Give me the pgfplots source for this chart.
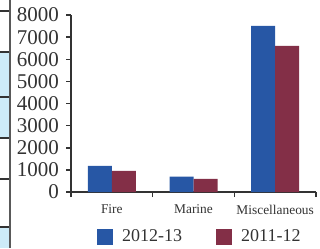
\documentclass[border=0pt]{standalone}
\usepackage{fontspec}
\setmainfont{Liberation Serif}
\usepackage{pgfplots}
\pgfplotsset{compat=1.18}
\definecolor{cblue}{HTML}{2757A5}
\definecolor{cred}{HTML}{832F47}
\definecolor{lblue}{HTML}{CDEBF8}
\definecolor{axgray}{HTML}{333333}
\begin{document}
\begin{tikzpicture}
\useasboundingbox (0,0) rectangle (160pt,124pt);
% cropped table fragment at the left edge
\fill[lblue] (0,55pt) rectangle (4.5pt,98pt);
\fill[lblue] (0,0) rectangle (4.5pt,10.5pt);
\foreach \yy in {11,52,97,138,179,227}{
  \draw[axgray, line width=0.6pt] (0,{(248-\yy)*0.5pt}) -- (4.5pt,{(248-\yy)*0.5pt});
}
\draw[gray!70!black, line width=0.6pt] (5pt,0) -- (5pt,124pt);
\begin{axis}[
  at={(35.5pt,28pt)}, anchor=south west,
  scale only axis, width=122.5pt, height=88.5pt,
  xmin=-0.5, xmax=2.5, ymin=0, ymax=8000,
  axis x line*=bottom, axis y line*=left,
  axis line style={draw=axgray, line width=0.75pt, -},
  ybar=0pt, bar width=12pt,
  xtick={0,1,2}, xticklabels={Fire,Marine,Miscellaneous},
  major x tick style={draw=none},
  minor xtick={-0.5,0.5,1.5,2.5},
  minor tick length=2.5pt,
  minor x tick style={draw=axgray, line width=0.75pt},
  ytick={0,1000,...,8000},
  major tick length=2.5pt,
  tick align=outside,
  y tick style={draw=axgray, line width=0.75pt},
  scaled y ticks=false,
  /pgf/number format/assume math mode=true,
  /pgf/number format/1000 sep={},
  yticklabel style={font=\fontsize{10.5}{12}\selectfont, text=black!80},
  xticklabel style={font=\fontsize{6.7}{8}\selectfont, text=black!80, yshift=-0.5pt},
  legend columns=2,
  legend style={at={(0.53,-0.254)}, anchor=center, draw=none, fill=none,
    font=\fontsize{9}{10}\selectfont, text=black!80,
    /tikz/every even column/.append style={column sep=15pt}},
  legend image code/.code={\fill[#1] (0pt,-4pt) rectangle (8pt,4pt); \path (10.5pt,0pt);},
]
\addplot[fill=cblue, draw=none] coordinates {(0,1180) (1,690) (2,7510)};
\addplot[fill=cred, draw=none] coordinates {(0,950) (1,590) (2,6600)};
\legend{2012-13, 2011-12}
\end{axis}
\end{tikzpicture}
\end{document}
